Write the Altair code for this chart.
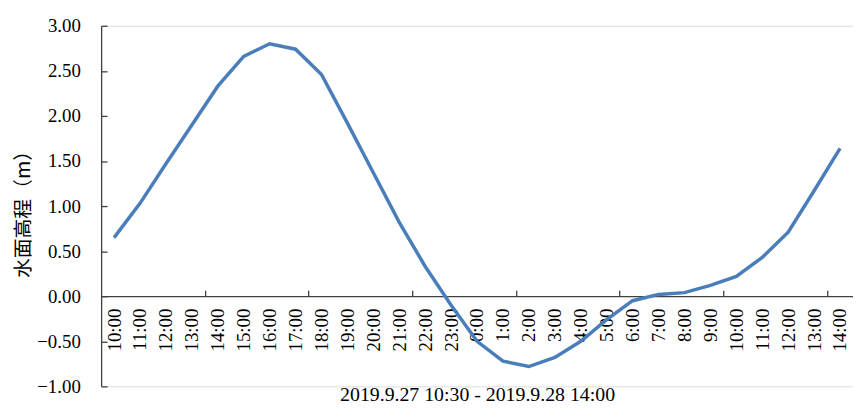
import altair as alt
import pandas as pd

labels = ["10:00", "11:00", "12:00", "13:00", "14:00", "15:00", "16:00", "17:00",
          "18:00", "19:00", "20:00", "21:00", "22:00", "23:00", "0:00", "1:00",
          "2:00", "3:00", "4:00", "5:00", "6:00", "7:00", "8:00", "9:00",
          "10:00", "11:00", "12:00", "13:00", "14:00"]
levels = [0.65, 1.03, 1.47, 1.90, 2.33, 2.66, 2.80, 2.74, 2.46, 1.92, 1.37, 0.82,
          0.33, -0.10, -0.50, -0.72, -0.78, -0.68, -0.50, -0.26, -0.05, 0.02,
          0.04, 0.12, 0.22, 0.43, 0.71, 1.17, 1.64]
y_ticks = [-1.0, -0.5, 0.0, 0.5, 1.0, 1.5, 2.0, 2.5, 3.0]
x_title = "2019.9.27 10:30 - 2019.9.28 14:00"
y_title = "水面高程（m）"

df = pd.DataFrame({"idx": list(range(len(labels))), "level": levels})
tick_pos = [i - 0.5 for i in range(4, len(labels), 4)]

W, H = 759, 364
ymin, ymax = -1.0, 3.0
zero_from_bottom = H * (0 - ymin) / (ymax - ymin)

label_expr = "[" + ",".join("'%s'" % l for l in labels) + "][datum.value]"
xscale = alt.Scale(domain=[-0.5, len(labels) - 0.5], nice=False, zero=False)
yscale = alt.Scale(domain=[ymin, ymax], nice=False, zero=False)
serif = "Liberation Serif"

line = alt.Chart(df).mark_line(color="#4a7ebb", strokeWidth=3.5).encode(
    x=alt.X("idx:Q", scale=xscale,
            axis=alt.Axis(orient="bottom", offset=-zero_from_bottom,
                          values=list(range(len(labels))), labelExpr=label_expr,
                          labelAngle=270, labelAlign="right", labelBaseline="middle",
                          labelPadding=12, ticks=False, grid=False,
                          domainColor="#404040", domainWidth=1.3,
                          labelFont=serif, labelFontSize=19, labelColor="black",
                          title=x_title, titleFont=serif, titleFontSize=20,
                          titleFontWeight="normal", titleColor="black",
                          titleY=89, titleBaseline="top", labelOverlap=False)),
    y=alt.Y("level:Q", scale=yscale,
            axis=alt.Axis(orient="left", values=y_ticks, format=".2f",
                          ticks=False, grid=False, labelPadding=21,
                          domainColor="#404040", domainWidth=1.3,
                          labelFont=serif, labelFontSize=19, labelColor="black",
                          title=y_title, titleFont="Noto Sans CJK SC",
                          titleFontSize=20, titleFontWeight="normal",
                          titleColor="black", titleAngle=270, titleX=-78,
                          titleY=H / 2 + 3, titleAlign="center",
                          titleBaseline="middle", labelOverlap=False)),
)

ticks = alt.Chart(df).mark_line(strokeOpacity=0).encode(
    x=alt.X("idx:Q", scale=xscale,
            axis=alt.Axis(orient="top", offset=-(H - zero_from_bottom),
                          values=tick_pos, labels=False, domain=False,
                          tickSize=6, tickColor="#404040", tickWidth=1.3,
                          grid=False, title=None)),
    y=alt.Y("level:Q", scale=yscale,
            axis=alt.Axis(orient="right", offset=-W, values=y_ticks,
                          labels=False, domain=False, tickSize=6,
                          tickColor="#404040", tickWidth=1.3, grid=False,
                          title=None)),
)

chart = alt.layer(line, ticks).resolve_axis(x="independent", y="independent").properties(
    width=W, height=H,
    padding={"left": 94, "top": 16, "right": 0, "bottom": 30},
    autosize=alt.AutoSizeParams(type="none"),
).configure_view(stroke=None).configure(background="white")

chart.save("out.html", embed_options={"renderer": "svg", "actions": False})
